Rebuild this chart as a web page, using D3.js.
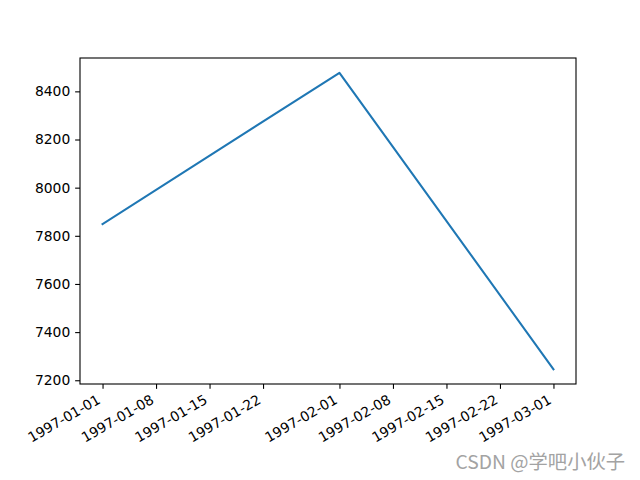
<!DOCTYPE html>
<html>
<head>
<meta charset="utf-8">
<script src="https://cdn.jsdelivr.net/npm/d3@7"></script>
<style>
  body { margin: 0; background: #fff; }
  svg { display: block; }
</style>
</head>
<body>
<svg id="chart" width="640" height="480"></svg>
<script>
"use strict";

// Data
var dates = ["1997-01-01", "1997-02-01", "1997-03-01"];
var values = [7849, 8477, 7246];

// Tick labels
var xTicks = ["1997-01-01", "1997-01-08", "1997-01-15", "1997-01-22",
              "1997-02-01", "1997-02-08", "1997-02-15", "1997-02-22", "1997-03-01"];
var yTicks = [7200, 7400, 7600, 7800, 8000, 8200, 8400];

var parse = d3.utcParse("%Y-%m-%d");
var fmt = d3.utcFormat("%Y-%m-%d");

var svg = d3.select("#chart");

// axes box as matplotlib lays it out at 100 dpi
var boxLeft = 80, boxRight = 576, boxTop = 58, boxBottom = 384;
var fontSize = 13.89;      // 10pt
var tickLen = 4.86;        // 3.5pt
var tickPad = 4.86;

// matplotlib adds a 5% margin on each side of the data
var xt = dates.map(function(d) { return parse(d).getTime(); });
var xMin = d3.min(xt), xMax = d3.max(xt), xm = (xMax - xMin) * 0.05;
var x = d3.scaleUtc()
    .domain([new Date(xMin - xm), new Date(xMax + xm)])
    .range([boxLeft, boxRight]);

var yMin = d3.min(values), yMax = d3.max(values), ym = (yMax - yMin) * 0.05;
var y = d3.scaleLinear()
    .domain([yMin - ym, yMax + ym])
    .range([boxBottom, boxTop]);

var points = dates.map(function(d, i) { return [parse(d), values[i]]; });

// the line
svg.append("path")
    .datum(points)
    .attr("fill", "none")
    .attr("stroke", "#1f77b4")
    .attr("stroke-width", 2.08)
    .attr("stroke-linejoin", "round")
    .attr("stroke-linecap", "square")
    .attr("d", d3.line()
        .x(function(p) { return x(p[0]); })
        .y(function(p) { return y(p[1]); }));

// y axis
var yAxis = d3.axisLeft(y)
    .tickValues(yTicks)
    .tickSize(tickLen)
    .tickPadding(tickPad)
    .tickFormat(d3.format("d"));

var gy = svg.append("g")
    .attr("transform", "translate(" + boxLeft + ",0)")
    .call(yAxis);
gy.select(".domain").remove();
gy.selectAll(".tick line").attr("stroke", "#000").attr("stroke-width", 1.1);
gy.selectAll(".tick text")
    .attr("fill", "#000")
    .style("font-family", "DejaVu Sans")
    .style("font-size", fontSize + "px");

// x axis, labels rotated 30 degrees and right aligned like autofmt_xdate
var xAxis = d3.axisBottom(x)
    .tickValues(xTicks.map(parse))
    .tickSize(tickLen)
    .tickFormat(fmt);

var gx = svg.append("g")
    .attr("transform", "translate(0," + boxBottom + ")")
    .call(xAxis);
gx.select(".domain").remove();
gx.selectAll(".tick line").attr("stroke", "#000").attr("stroke-width", 1.1);

var ascent = fontSize * 0.73, descent = fontSize * 0.24;
gx.selectAll(".tick text")
    .attr("fill", "#000")
    .style("font-family", "DejaVu Sans")
    .style("font-size", fontSize + "px")
    .attr("text-anchor", "end")
    .attr("dy", null)
    .attr("y", null)
    .attr("transform", "translate(" + (-0.5 * descent) + "," +
          (tickLen + tickPad + 0.866 * ascent) + ") rotate(-30)");

// frame
svg.append("rect")
    .attr("x", boxLeft)
    .attr("y", boxTop)
    .attr("width", boxRight - boxLeft)
    .attr("height", boxBottom - boxTop)
    .attr("fill", "none")
    .attr("stroke", "#000")
    .attr("stroke-width", 1.1);

// watermark
svg.append("text")
    .attr("x", 625)
    .attr("y", 469)
    .attr("text-anchor", "end")
    .attr("fill", "#a3a3a3")
    .style("font-family", "Noto Sans CJK SC")
    .style("font-size", "19.3px")
    .text("CSDN @学吧小伙子");
</script>
</body>
</html>
